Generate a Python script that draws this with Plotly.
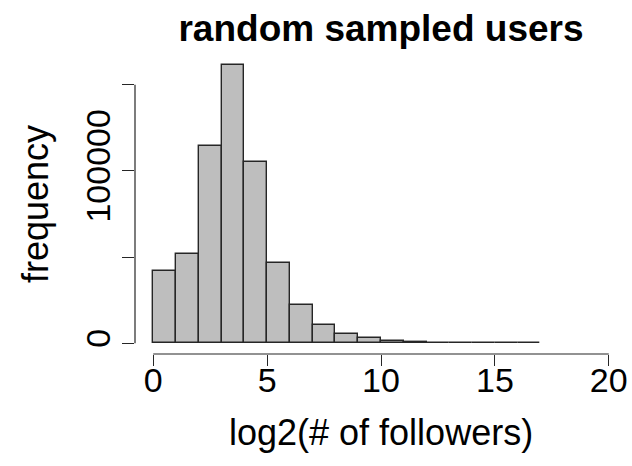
import plotly.graph_objects as go

# histogram bins: log2(# of followers), width 1, from 0 to 17
bin_left = [0, 1, 2, 3, 4, 5, 6, 7, 8, 9, 10, 11, 12, 13, 14, 15, 16]
counts = [42200, 51900, 114700, 161600, 105200, 46500, 22100, 10600, 5200,
          2900, 1500, 600, 250, 100, 50, 20, 10]

x_ticks = [0, 5, 10, 15, 20]
y_ticks = [0, 50000, 100000, 150000]
y_ticktext = ["0", "", "100000", ""]

title_text = "random sampled users"
x_title = "log2(# of followers)"
y_title = "frequency"

FONT = "Liberation Sans, Arial, Helvetica, sans-serif"

centers = [b + 0.5 for b in bin_left]

fig = go.Figure()
fig.add_trace(go.Bar(
    x=centers, y=counts, width=1,
    marker=dict(color="#BEBEBE", line=dict(color="#262626", width=1.4)),
    showlegend=False, hoverinfo="skip",
))

fig.update_layout(
    width=632, height=466,
    margin=dict(l=135, r=5, t=54, b=112, pad=0, autoexpand=False),
    paper_bgcolor="white", plot_bgcolor="white",
    bargap=0,
    font=dict(family=FONT, color="black"),
    title=dict(text="<b>" + title_text + "</b>", x=0.5, xref="paper",
               y=1 - 28 / 466, yref="container", yanchor="middle",
               font=dict(size=37, family=FONT, color="black")),
    xaxis=dict(range=[-0.8, 20.8], tickvals=x_ticks, showgrid=False,
               zeroline=False, showline=False, ticks="outside", ticklen=11,
               tickwidth=1.2, tickcolor="#262626", automargin=False,
               ticklabelstandoff=-15,
               tickfont=dict(size=34, family=FONT, color="black")),
    yaxis=dict(range=[-6200, 167800], tickvals=y_ticks, ticktext=y_ticktext,
               showgrid=False, zeroline=False, showline=False,
               ticks="outside", ticklen=12, tickwidth=1.2, tickcolor="#262626",
               tickangle=-90, automargin=False, ticklabelstandoff=-2,
               tickfont=dict(size=34, family=FONT, color="black")),
)

# axis titles
fig.add_annotation(text=x_title, xref="paper", yref="paper", x=0.5,
                   y=(354 - 433) / 300, xanchor="center", yanchor="middle",
                   showarrow=False, font=dict(size=36, family=FONT, color="black"))
fig.add_annotation(text=y_title, xref="paper", yref="paper",
                   x=(35 - 135) / 492, y=0.5, textangle=-90,
                   xanchor="center", yanchor="middle",
                   showarrow=False, font=dict(size=36, family=FONT, color="black"))

# R-style axis lines spanning only first to last tick
fig.add_shape(type="line", xref="x", yref="paper", x0=x_ticks[0], x1=x_ticks[-1],
              y0=0, y1=0, line=dict(color="#262626", width=1.2))
fig.add_shape(type="line", xref="paper", yref="y", x0=0, x1=0,
              y0=y_ticks[0], y1=y_ticks[-1], line=dict(color="#262626", width=1.2))

fig.write_html("out.html", config={"displayModeBar": False},
               post_script="document.body.style.margin='0';document.body.style.padding='0';")
